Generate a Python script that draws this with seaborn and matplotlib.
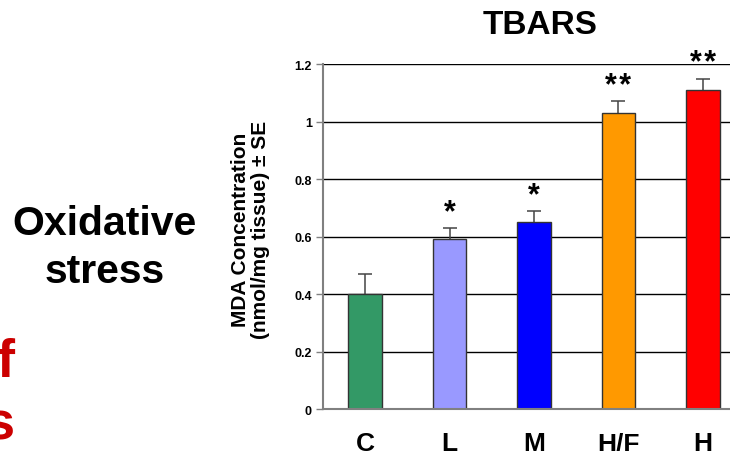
import numpy as np
import pandas as pd
import matplotlib
matplotlib.use("Agg")
import matplotlib.pyplot as plt
import seaborn as sns

# TBARS data
groups = ["C", "L", "M", "H/F", "H"]
mda = [0.40, 0.59, 0.65, 1.03, 1.11]
se = [0.07, 0.04, 0.04, 0.04, 0.04]
stars = ["", "*", "*", "**", "**"]
colors = ["#339966", "#9999FF", "#0000FF", "#FF9900", "#FF0000"]
yticks = [0, 0.2, 0.4, 0.6, 0.8, 1.0, 1.2]

sns.set_style("white")
plt.rcParams['font.family'] = ['Liberation Sans', 'DejaVu Sans']
plt.rcParams['text.color'] = 'black'
plt.rcParams['axes.labelcolor'] = 'black'
plt.rcParams['xtick.color'] = 'black'
plt.rcParams['ytick.color'] = 'black'

df = pd.DataFrame({"group": groups, "mda": mda, "se": se})

fig = plt.figure(figsize=(7.3, 4.52), dpi=100)
ax = fig.add_axes([0.4425, 0.0929, 0.578, 0.763])

sns.barplot(data=df, x="group", y="mda", hue="group", palette=colors,
			width=0.4, edgecolor="#333333", linewidth=1, saturation=1,
			errorbar=None, legend=False, ax=ax, zorder=2)
ax.errorbar(x=np.arange(len(groups)), y=mda, yerr=se, fmt="none",
			ecolor="#444444", elinewidth=1.1, capsize=5, capthick=1.1, zorder=1)

# significance marks just above the error bars
for i, s in enumerate(stars):
	if s:
		ax.text(i, mda[i] + se[i] + 0.027, "\u200a".join(s), ha="center",
				va="baseline", fontsize=22, fontweight="bold")

ax.set_xlim(-0.5, 4.5)
ax.set_ylim(0, 1.2)
ax.set_yticks(yticks)
ax.set_yticklabels([f"{v:g}" for v in yticks], fontsize=9, fontweight="bold")
ax.set_axisbelow(True)
ax.yaxis.grid(True, color="black", linewidth=1)
ax.xaxis.grid(False)
ax.tick_params(axis="y", left=True, length=5, width=1, color="#808080", pad=3)
ax.tick_params(axis="x", bottom=False, length=0, pad=16)
for lab in ax.get_xticklabels():
	lab.set_fontsize(19)
	lab.set_fontweight("bold")
ax.set_xlabel("")
ax.set_ylabel("MDA Concentration\n(nmol/mg tissue) ± SE", fontsize=15,
			  fontweight="bold", linespacing=1.05)
ax.yaxis.set_label_coords(-0.126, 0.522)
sns.despine(ax=ax, top=True, right=True)
for side in ["left", "bottom"]:
	ax.spines[side].set_color("#808080")
	ax.spines[side].set_linewidth(1.5)

# slide text around the chart
fig.text(540 / 730, 1 - 25 / 452, "TBARS", ha="center", va="center",
		 fontsize=24, fontweight="bold")
fig.text(105 / 730, 1 - 235 / 452, "Oxidative", ha="center", va="baseline",
		 fontsize=29.5, fontweight="bold")
fig.text(105 / 730, 1 - 283 / 452, "stress", ha="center", va="baseline",
		 fontsize=29.5, fontweight="bold")
fig.text(14 / 730, 1 - 377 / 452, "f", ha="right", va="baseline",
		 fontsize=39, fontweight="bold", color="#CC0000")
fig.text(14 / 730, 1 - 440 / 452, "s", ha="right", va="baseline",
		 fontsize=39, fontweight="bold", color="#CC0000")

plt.savefig("out.png", dpi=100)
